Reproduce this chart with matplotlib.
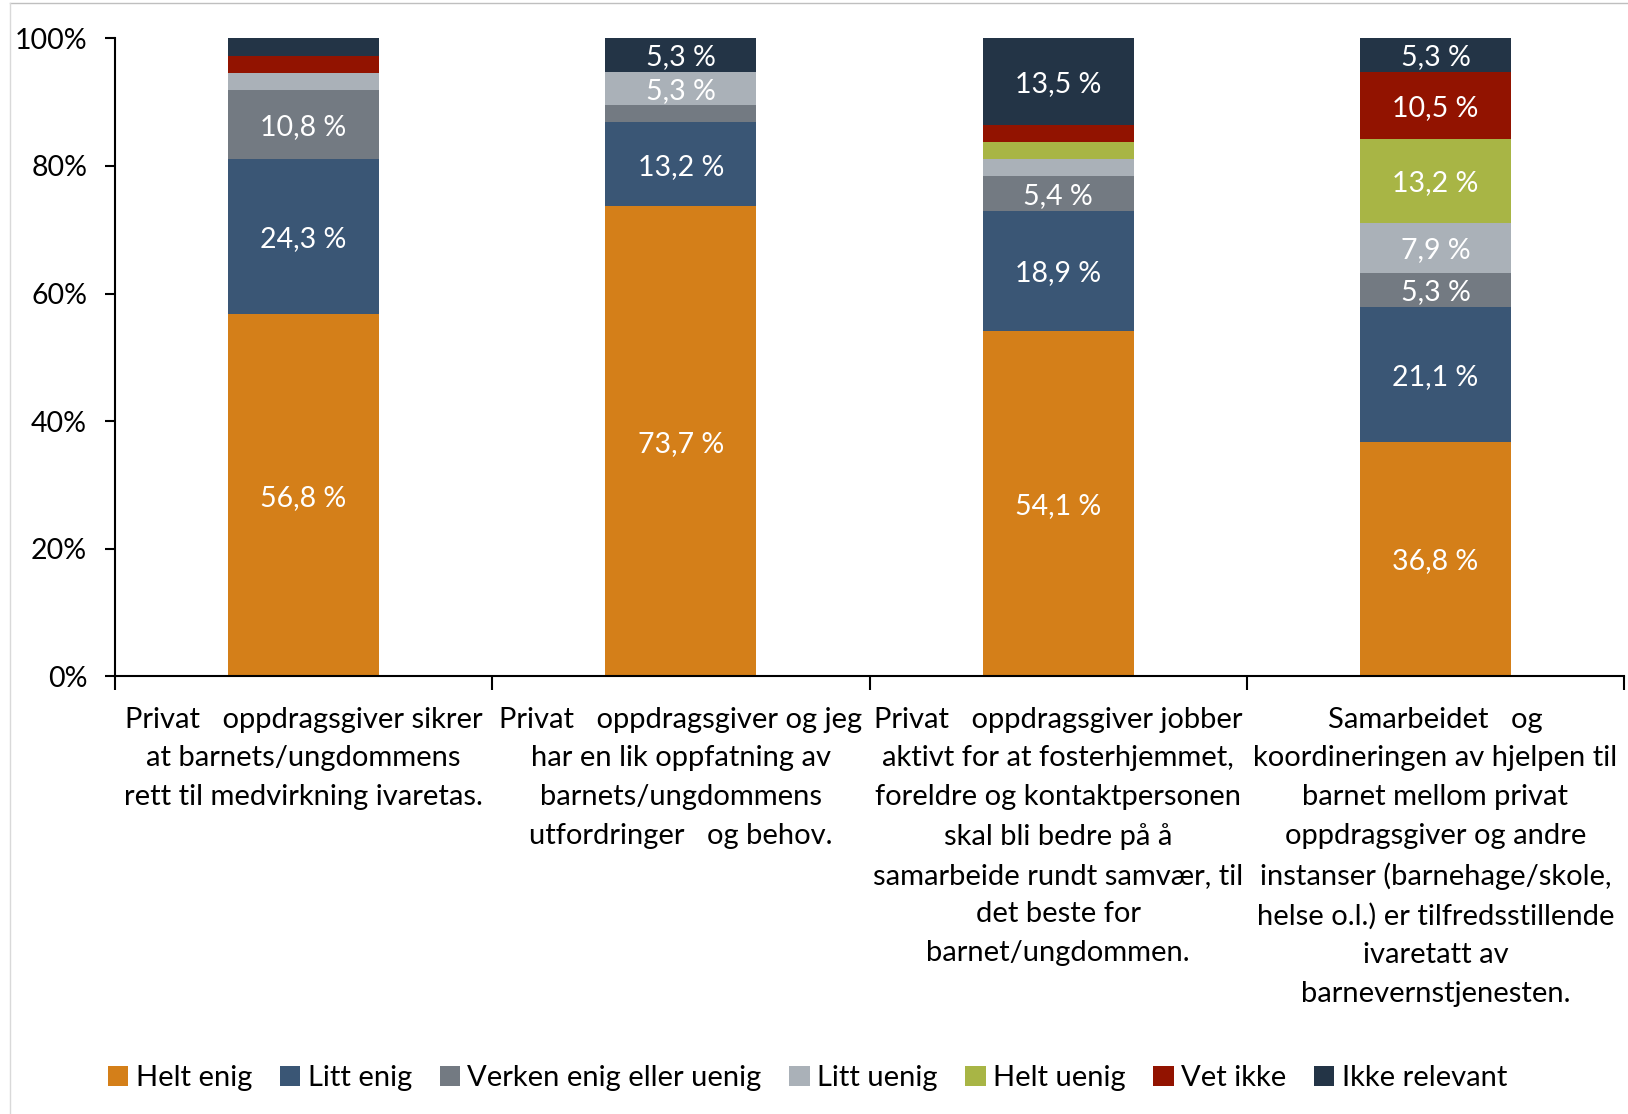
import matplotlib
matplotlib.use("Agg")
import matplotlib.pyplot as plt
from matplotlib.lines import Line2D
import numpy as np

plt.rcParams["font.family"] = ["Lato", "DejaVu Sans"]

categories = [
    "Privat   oppdragsgiver sikrer\nat barnets/ungdommens\nrett til medvirkning ivaretas.",
    "Privat   oppdragsgiver og jeg\nhar en lik oppfatning av\nbarnets/ungdommens\nutfordringer   og behov.",
    "Privat   oppdragsgiver jobber\naktivt for at fosterhjemmet,\nforeldre og kontaktpersonen\nskal bli bedre på å\n"
    "samarbeide rundt samvær, til\ndet beste for\nbarnet/ungdommen.",
    "Samarbeidet   og\nkoordineringen av hjelpen til\nbarnet mellom privat\noppdragsgiver og andre\n"
    "instanser (barnehage/skole,\nhelse o.l.) er tilfredsstillende\nivaretatt av\nbarnevernstjenesten.",
]

series = ["Helt enig", "Litt enig", "Verken enig eller uenig", "Litt uenig",
          "Helt uenig", "Vet ikke", "Ikke relevant"]
colors = ["#D47F19", "#3A5675", "#737A82", "#AAB1B8", "#A8B545", "#921300", "#233446"]

helt_enig = [56.8, 73.7, 54.1, 36.8]
litt_enig = [24.3, 13.2, 18.9, 21.1]
verken = [10.8, 2.6, 5.4, 5.3]
litt_uenig = [2.7, 5.3, 2.7, 7.9]
helt_uenig = [0.0, 0.0, 2.7, 13.2]
vet_ikke = [2.7, 0.0, 2.7, 10.5]
ikke_relevant = [2.7, 5.3, 13.5, 5.3]

values = [helt_enig, litt_enig, verken, litt_uenig, helt_uenig, vet_ikke, ikke_relevant]

fig = plt.figure(figsize=(16.28, 11.14), dpi=100)
ax = fig.add_axes([0.0706, 0.393, 0.927, 0.5725])

x = np.arange(len(categories))
bottom = np.zeros(len(categories))
for name, vals, col in zip(series, values, colors):
    vals = np.array(vals)
    ax.bar(x, vals, 0.4, bottom=bottom, color=col, label=name)
    for xi, v, b in zip(x, vals, bottom):
        if v >= 5:
            ax.text(xi, b + v / 2, f"{v:.1f} %".replace(".", ","), ha="center",
                    va="center_baseline", color="white", fontsize=20.5)
    bottom += vals

ax.set_xlim(-0.5, 3.5)
ax.set_ylim(0, 100)
ax.set_yticks(range(0, 101, 20))
ax.set_yticklabels([f"{t}%" for t in range(0, 101, 20)], fontsize=20.5)
ax.tick_params(axis="y", length=7, width=1.5, pad=13, direction="out")
ax.set_xticks(np.arange(-0.5, 4, 1))
ax.set_xticklabels([])
ax.tick_params(axis="x", length=10, width=1.5, direction="out")
for s in ["top", "right"]:
    ax.spines[s].set_visible(False)
for s in ["left", "bottom"]:
    ax.spines[s].set_linewidth(1.5)

for xi, lab in zip(x, categories):
    ax.annotate(lab, xy=(xi, 0), xycoords=("data", "axes fraction"),
                xytext=(0, -22), textcoords="offset points", ha="center", va="top",
                fontsize=21, linespacing=1.6)

ax.legend(loc="center", bbox_to_anchor=(0.496, 0.032), bbox_transform=fig.transFigure,
          ncol=7, frameon=False, fontsize=21, handlelength=0.7, handleheight=0.7,
          handletextpad=0.25, columnspacing=0.95)

# light outer frame at the top and left edge
fig.add_artist(Line2D([0.006, 1], [0.997, 0.997], transform=fig.transFigure,
                      color="#BFBFBF", lw=1))
fig.add_artist(Line2D([0.006, 0.006], [0, 0.997], transform=fig.transFigure,
                      color="#D9D9D9", lw=1))

fig.savefig("out.png", dpi=100)
